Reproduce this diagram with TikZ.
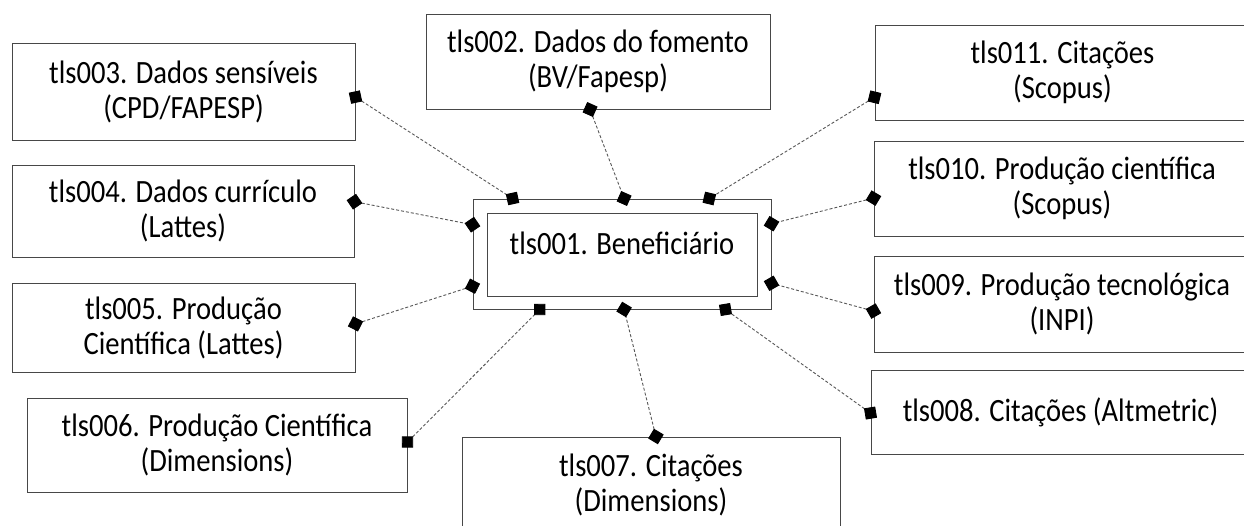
\documentclass[tikz,border=0pt]{standalone}
\usepackage{fontspec}
\setmainfont{Carlito}[FakeStretch=0.88]
\usetikzlibrary{calc,arrows.meta}
\begin{document}
\begin{tikzpicture}[x=1pt,y=-1pt,
  box/.style={draw=black!72, line width=1pt, rectangle, inner sep=0pt, align=center,
    font=\fontsize{32.5}{35}\selectfont},
  link/.style={draw=black!65, line width=0.9pt, dash pattern=on 3pt off 2pt,
    {Diamond[length=16pt,width=16pt,color=black]}-{Diamond[length=16pt,width=16pt,color=black]},
    shorten <=-8pt, shorten >=-8pt}]
\useasboundingbox (0,0) rectangle (1244,525);
\clip (0,0) rectangle (1244,525);
\fill[white] (0,0) rectangle (1244,525);

\node[box, minimum width=343, minimum height=97] (b003) at (183.5,91.5) {tls003. Dados sensíveis\\(CPD/FAPESP)};
\node[box, minimum width=342, minimum height=92] (b004) at (183,211) {tls004. Dados currículo\\(Lattes)};
\node[box, minimum width=343, minimum height=89] (b005) at (183.5,327.5) {tls005. Produção\\Científica (Lattes)};
\node[box, minimum width=380, minimum height=94] (b006) at (217,445) {tls006. Produção Científica\\(Dimensions)};
\node[box, minimum width=344, minimum height=95] (b002) at (598,61.5) {tls002. Dados do fomento\\(BV/Fapesp)};
\node[box, minimum width=375, minimum height=95] (b011) at (1062.5,72.5) {tls011. Citações\\(Scopus)};
\node[box, minimum width=376, minimum height=95] (b010) at (1062,188.5) {tls010. Produção científica\\(Scopus)};
\node[box, minimum width=376, minimum height=96] (b009) at (1062,304) {tls009. Produção tecnológica\\(INPI)};
\node[box, minimum width=379, minimum height=84] (b008) at (1060.5,412) {tls008. Citações (Altmetric)};
\node[box, minimum width=378, minimum height=95] (b007) at (651,484.5) {tls007. Citações\\(Dimensions)};

\node[box, minimum width=298, minimum height=110] (outer) at (622,254) {};
\node[box, minimum width=270, minimum height=83, text height=12pt, text depth=12pt] (b001) at (622,254.5) {tls001. Beneficiário};

% connectors
\draw[link] ($(b003.north east)!0.557!(b003.south east)$) -- ($(outer.north west)!0.134!(outer.north east)$);
\draw[link] ($(b002.south west)!0.477!(b002.south east)$) -- ($(outer.north west)!0.507!(outer.north east)$);
\draw[link] ($(b011.north west)!0.758!(b011.south west)$) -- ($(outer.north west)!0.792!(outer.north east)$);
\draw[link] ($(b004.north east)!0.40!(b004.south east)$) -- ($(outer.north west)!0.236!(outer.south west)$);
\draw[link] ($(b005.north east)!0.46!(b005.south east)$) -- ($(outer.north west)!0.79!(outer.south west)$);
\draw[link] ($(b010.north west)!0.60!(b010.south west)$) -- ($(outer.north east)!0.227!(outer.south east)$);
\draw[link] ($(b009.north west)!0.573!(b009.south west)$) -- ($(outer.north east)!0.764!(outer.south east)$);
\draw[link] ($(b006.north east)!0.468!(b006.south east)$) -- ($(outer.south west)!0.225!(outer.south east)$);
\draw[link] ($(b007.north west)!0.513!(b007.north east)$) -- ($(outer.south west)!0.507!(outer.south east)$);
\draw[link] ($(b008.north west)!0.512!(b008.south west)$) -- ($(outer.south west)!0.846!(outer.south east)$);
\end{tikzpicture}
\end{document}
